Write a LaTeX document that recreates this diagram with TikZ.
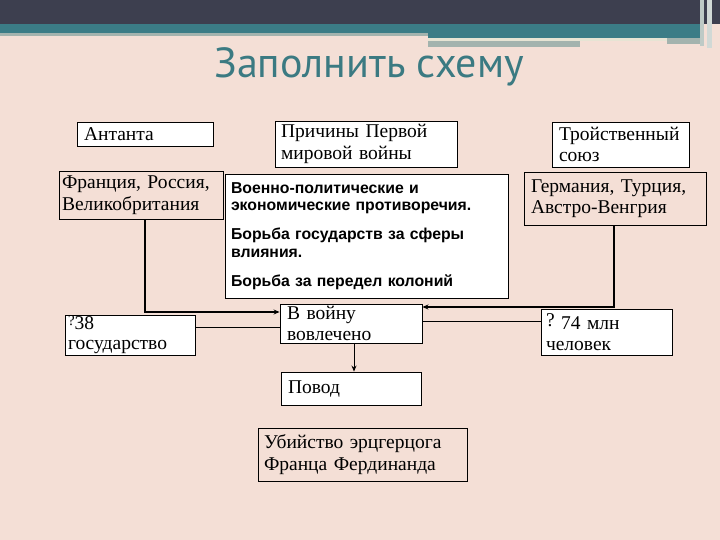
\documentclass[tikz,border=0pt]{standalone}
\usepackage{fontspec}
\setmainfont{Liberation Serif}
\newfontfamily\titlefont{PT Sans}
\newfontfamily\causefont{Liberation Sans}
\usetikzlibrary{arrows.meta}
\definecolor{bgpink}{HTML}{F4DFD6}
\definecolor{darkband}{HTML}{3D3F4F}
\definecolor{tealband}{HTML}{3B7C86}
\definecolor{greystrip}{HTML}{A3B3AE}
\definecolor{creamline}{HTML}{E6E4D4}
\definecolor{titleteal}{HTML}{3B7A82}
\tikzset{
  box/.style={draw=black, line width=0.9pt, fill=white, align=left, inner ysep=0pt,
    font=\fontsize{19.5}{21.5}\selectfont},
  pinkbox/.style={box, fill=bgpink},
  conn/.style={draw=black, line width=1.1pt},
  arr/.style={conn, -{Stealth[length=6pt,width=5pt]}}
}
\begin{document}
\begin{tikzpicture}[x=1pt,y=-1pt]
\useasboundingbox (0,0) rectangle (720,540);
\fill[bgpink] (0,0) rectangle (720,540);
% top decoration
\fill[darkband] (0,0) rectangle (720,24);
\fill[tealband] (0,24) rectangle (702,33);
\fill[greystrip] (0,33) rectangle (428,36);
\fill[tealband] (428,33) rectangle (702,38);
\fill[creamline] (428,38) rectangle (667,41);
\fill[greystrip] (667,38) rectangle (704,44);
\fill[greystrip] (428,41) rectangle (580,47);
\fill[greystrip!70!white] (700,0) rectangle (704,46);
\fill[greystrip!50!white] (707,0) rectangle (712,48);
% title
\node[text=titleteal, font=\titlefont\fontsize{42}{50}\selectfont] (title) at (369,67) {Заполнить схему};
% boxes
\node[box, text width=122, inner xsep=7, minimum height=24] (ant) at (145,134) {Антанта};
\node[box, text width=170, inner xsep=6, minimum height=46] (cause) at (366,144) {Причины Первой\\мировой войны};
\node[box, text width=123, inner xsep=7, minimum height=45] (triple) at (620.5,144.5) {Тройственный\\союз};
\node[pinkbox, text width=158, inner xsep=3, minimum height=48] (fr) at (141,195) {Франция, Россия,\\Великобритания};
\node[box, text width=271, inner xsep=6, minimum height=124,
  font=\causefont\bfseries\fontsize{15.8}{17.5}\selectfont] (causes) at (366.5,236)
  {Военно-политические и\\экономические противоречия.\\[11.5pt]Борьба государств за сферы\\влияния.\\[11.5pt]Борьба за передел колоний};
\node[pinkbox, text width=168, inner xsep=7, minimum height=53] (ger) at (615,198.5) {Германия, Турция,\\Австро-Венгрия};
\node[box, text width=124, inner xsep=3, minimum height=40,
  font=\fontsize{19.5}{20}\selectfont] (q38) at (130,335)
  {\raisebox{4pt}{\fontsize{15}{15}\selectfont ?}38\\государство};
\node[box, text width=128, inner xsep=7, minimum height=39] (war) at (351,323.5) {В войну\\вовлечено};
\node[box, text width=121, inner xsep=5, minimum height=46] (q74) at (606.5,332)
  {\raisebox{3pt}{?} 74 млн\\человек};
\node[box, text width=126, inner xsep=7, minimum height=33] (povod) at (351,388.5) {Повод};
\node[pinkbox, text width=197, inner xsep=6, minimum height=53] (kill) at (362.5,454.5) {Убийство эрцгерцога\\Франца Фердинанда};
% connectors
\draw[arr] ([xshift=4pt]fr.south) |- ([yshift=11.5pt]war.west);
\draw[arr] ([xshift=-1pt]ger.south) |- ([yshift=16.5pt]war.east);
\draw[conn, line width=0.8pt] ([yshift=8pt]q38.east) -- ([yshift=8pt]q38.east -| war.west);
\draw[conn, line width=0.8pt] ([yshift=2.5pt]war.east) -- ([yshift=2.5pt]war.east -| q74.west);
\draw[arr, line width=0.8pt] ([xshift=3pt]war.south) -- ([xshift=3pt]war.south |- povod.north);
\end{tikzpicture}
\end{document}
